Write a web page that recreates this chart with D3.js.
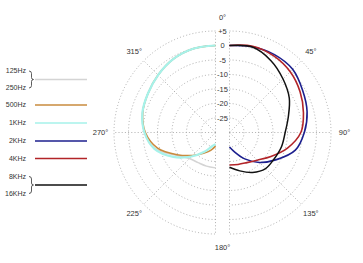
<!DOCTYPE html>
<html>
<head>
<meta charset="utf-8">
<script src="https://cdn.jsdelivr.net/npm/d3@7"></script>
<style>
  body { margin: 0; background: #fff; }
  text { font-family: "Liberation Sans", Arial, sans-serif; fill: #333; }
</style>
</head>
<body>
<script>
// angles in degrees, measured from the front (0°) towards the back (180°)
var angles = [0, 15, 30, 45, 60, 75, 90, 105, 120, 135, 150, 165, 180];

// left half (low frequencies), dB
var hz125_250 = [0, -0.1, -0.8, -2.0, -3.1, -3.9, -5.5, -8.4, -14.3, -17.3, -18.0, -18.0, -17.8];
var hz500     = [0, -0.1, -0.8, -2.0, -3.1, -4.0, -5.8, -9.3, -14.7, -18.8, -21.7, -23.6, -25.3];
var khz1      = [0, -0.1, -0.8, -2.0, -3.1, -3.9, -5.5, -8.2, -13.2, -18.3, -22.3, -25.0, -26.0];

// right half (high frequencies), dB
var khz2      = [0, 0.6, 1.0, 0.8, -0.9, -2.3, -4.2, -6.5, -11.3, -15.4, -19.5, -23.0, -25.0];
var khz4      = [0, 0.8, 0.5, -0.4, -1.9, -3.6, -5.4, -9.3, -13.5, -16.5, -18.0, -18.6, -18.8];
var khz8_16   = [0, 0.5, -1.4, -3.9, -6.2, -9.0, -10.8, -11.4, -12.1, -12.4, -14.1, -16.3, -18.0];

var dbTicks = [5, 0, -5, -10, -15, -20, -25];
var dbTickLabels = ["+5", "0", "-5", "-10", "-15", "-20", "-25"];
var spokeAngles = [0, 45, 90, 135, 180];
var degLabelsRight = ["45°", "90°", "135°"];
var degLabelsLeft = ["315°", "270°", "225°"];

var legendNames = [["125Hz", "250Hz"], ["500Hz"], ["1KHz"], ["2KHz"], ["4KHz"], ["8KHz", "16KHz"]];
var legendColors = ["#d4d4d4", "#c98b3e", "#a6f2ea", "#1c1f8e", "#b22428", "#111111"];

var width = 363, height = 263;
var cy = 132.5, cxLeft = 215.5, cxRight = 229.5, cxMid = 222.5;

var svg = d3.select("body").append("svg")
  .attr("width", width)
  .attr("height", height);

var r = d3.scaleLinear().domain([-30, 5]).range([0, 101.5]);
var rad = d3.scaleLinear().domain([0, 180]).range([0, Math.PI]);

var gridColor = "#9a9a9a";

// grid: half rings and spokes for each side
function halfGrid(cx, sign) {
  var g = svg.append("g").attr("transform", "translate(" + cx + "," + cy + ")");
  dbTicks.forEach(function(d) {
    var p = d3.path();
    if (sign > 0) p.arc(0, 0, r(d), -Math.PI / 2, Math.PI / 2);
    else p.arc(0, 0, r(d), -Math.PI / 2, Math.PI / 2, true);
    g.append("path")
      .attr("d", p.toString())
      .attr("fill", "none")
      .attr("stroke", gridColor)
      .attr("stroke-width", 0.8)
      .attr("stroke-dasharray", "1,2.2");
  });
  spokeAngles.forEach(function(a) {
    var t = rad(a) * sign;
    g.append("line")
      .attr("x1", 0).attr("y1", 0)
      .attr("x2", r(5) * Math.sin(t))
      .attr("y2", -r(5) * Math.cos(t))
      .attr("stroke", gridColor)
      .attr("stroke-width", 0.8)
      .attr("stroke-dasharray", "1,2.2");
  });
  return g;
}

var gL = halfGrid(cxLeft, -1);
var gR = halfGrid(cxRight, 1);

// dB labels between the halves
svg.selectAll(".dbl")
  .data(dbTicks)
  .enter().append("text")
  .attr("class", "dbl")
  .attr("x", cxMid)
  .attr("y", function(d) { return cy - r(d); })
  .attr("dy", "0.35em")
  .attr("text-anchor", "middle")
  .attr("font-size", 7.5)
  .text(function(d, i) { return dbTickLabels[i]; });

// angle labels
var labR = 115;
svg.append("text").attr("x", cxMid).attr("y", cy - labR).attr("dy", "0.35em")
  .attr("text-anchor", "middle").attr("font-size", 7.5).text("0°");
svg.append("text").attr("x", cxMid).attr("y", cy + labR).attr("dy", "0.35em")
  .attr("text-anchor", "middle").attr("font-size", 7.5).text("180°");
[45, 90, 135].forEach(function(a, i) {
  svg.append("text")
    .attr("x", cxRight + labR * Math.sin(rad(a)))
    .attr("y", cy - labR * Math.cos(rad(a)))
    .attr("dy", "0.35em").attr("text-anchor", "middle").attr("font-size", 7.5)
    .text(degLabelsRight[i]);
  svg.append("text")
    .attr("x", cxLeft - labR * Math.sin(rad(a)))
    .attr("y", cy - labR * Math.cos(rad(a)))
    .attr("dy", "0.35em").attr("text-anchor", "middle").attr("font-size", 7.5)
    .text(degLabelsLeft[i]);
});

// response curves
function curve(g, values, sign, color, w) {
  var line = d3.lineRadial()
    .angle(function(d, i) { return rad(angles[i]) * sign; })
    .radius(function(d) { return r(d); })
    .curve(d3.curveCatmullRom);
  g.append("path")
    .attr("d", line(values))
    .attr("fill", "none")
    .attr("stroke", color)
    .attr("stroke-width", w);
}

curve(gL, hz125_250, -1, legendColors[0], 1.5);
curve(gL, hz500, -1, legendColors[1], 1.6);
curve(gL, khz1, -1, legendColors[2], 2.2);
curve(gR, khz2, 1, legendColors[3], 1.6);
curve(gR, khz4, 1, legendColors[4], 1.6);
curve(gR, khz8_16, 1, legendColors[5], 1.5);

// legend
var legendY = [79.5, 105, 123, 141, 158.5, 185];
var leg = svg.append("g");
legendNames.forEach(function(names, i) {
  var y = legendY[i];
  leg.append("line")
    .attr("x1", 35).attr("x2", 87)
    .attr("y1", y).attr("y2", y)
    .attr("stroke", legendColors[i])
    .attr("stroke-width", 1.7);
  if (names.length == 1) {
    leg.append("text").attr("x", 26).attr("y", y).attr("dy", "0.35em")
      .attr("text-anchor", "end").attr("font-size", 7).text(names[0]);
  } else {
    var y1 = y - 8.5, y2 = y + 8.5;
    leg.append("text").attr("x", 26).attr("y", y1).attr("dy", "0.35em")
      .attr("text-anchor", "end").attr("font-size", 7).text(names[0]);
    leg.append("text").attr("x", 26).attr("y", y2).attr("dy", "0.35em")
      .attr("text-anchor", "end").attr("font-size", 7).text(names[1]);
    // brace
    var p = d3.path(), x = 29;
    p.moveTo(x, y1);
    p.quadraticCurveTo(x + 2.5, y1, x + 2.5, y1 + 2.5);
    p.lineTo(x + 2.5, y - 2);
    p.quadraticCurveTo(x + 2.5, y, x + 4.5, y);
    p.quadraticCurveTo(x + 2.5, y, x + 2.5, y + 2);
    p.lineTo(x + 2.5, y2 - 2.5);
    p.quadraticCurveTo(x + 2.5, y2, x, y2);
    leg.append("path").attr("d", p.toString())
      .attr("fill", "none").attr("stroke", "#333").attr("stroke-width", 0.8);
  }
});
</script>
</body>
</html>
